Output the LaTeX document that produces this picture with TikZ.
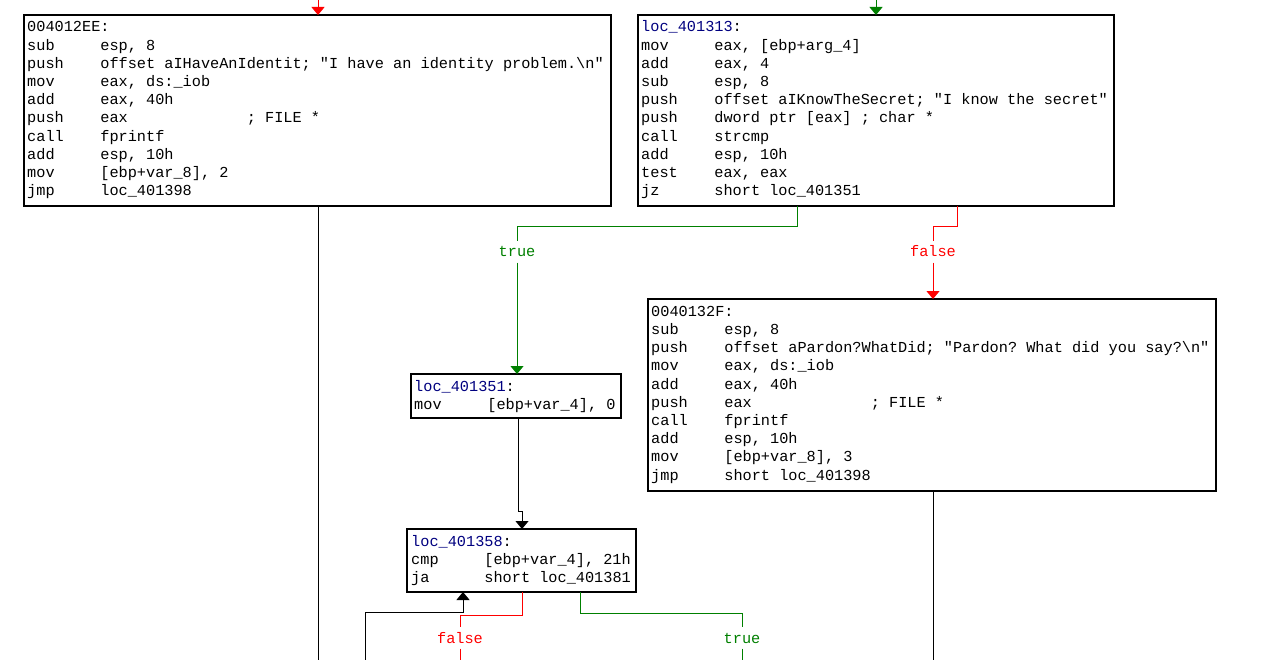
\documentclass[tikz,border=0pt]{standalone}
\usepackage{fontspec}
\usetikzlibrary{arrows.meta}
\newfontfamily\asm{Liberation Mono}
\definecolor{idagreen}{RGB}{0,128,0}
\definecolor{idared}{RGB}{255,0,0}
\definecolor{idablue}{RGB}{0,0,128}
\newlength\cw
\setlength\cw{9.15pt}
\newcommand\ins[2]{\makebox[8\cw][l]{#1}#2}
\newcommand\insc[3]{\makebox[8\cw][l]{#1}\makebox[16\cw][l]{#2}#3}
\newcommand\fl{\rule{0pt}{12pt}}
\newcommand\loclbl[1]{\textcolor{idablue}{#1}:}
\tikzset{
  asmfont/.style={font={\asm\fontsize{15.25pt}{18.2pt}\selectfont\frenchspacing}},
  blkbox/.style={draw=black, line width=2pt, fill=white, inner sep=0pt, outer sep=0pt, anchor=north west},
  asmtext/.style={asmfont, align=left, inner sep=0pt, anchor=north west, text=black},
  lbl/.style={asmfont, fill=white, inner xsep=2pt, inner ysep=0pt, minimum height=21pt, text height=10pt, text depth=0pt},
  tip/.style={-{Triangle[width=13pt,length=8pt]}},
  kline/.style={draw=black, line width=1pt},
  gline/.style={draw=idagreen, line width=1pt},
  rline/.style={draw=idared, line width=1pt}
}
\begin{document}
\begin{tikzpicture}[x=1pt,y=-1pt]
\fill[white] (0,0) rectangle (1271,660);
\useasboundingbox (0,0) rectangle (1271,660);

% blocks
\node[blkbox, minimum width=587pt, minimum height=191pt] (A) at (24,15) {};
\node[blkbox, minimum width=476pt, minimum height=191pt] (B) at (638,15) {};
\node[blkbox, minimum width=568pt, minimum height=192pt] (C) at (648,299) {};
\node[blkbox, minimum width=210pt, minimum height=44pt] (D) at (411,374) {};
\node[blkbox, minimum width=229pt, minimum height=63pt] (E) at (407,529) {};

% block texts
\node[asmtext] (Atxt) at (27,19.7) {\fl 004012EE:\\
\ins{sub}{esp, 8}\\
\ins{push}{offset aIHaveAnIdentit; "I have an identity problem.\textbackslash n"}\\
\ins{mov}{eax, ds:\_iob}\\
\ins{add}{eax, 40h}\\
\insc{push}{eax}{; FILE *}\\
\ins{call}{fprintf}\\
\ins{add}{esp, 10h}\\
\ins{mov}{[ebp+var\_8], 2}\\
\ins{jmp}{loc\_401398}};

\node[asmtext] (Btxt) at (641,19.7) {\fl\loclbl{loc\_401313}\\
\ins{mov}{eax, [ebp+arg\_4]}\\
\ins{add}{eax, 4}\\
\ins{sub}{esp, 8}\\
\ins{push}{offset aIKnowTheSecret; "I know the secret"}\\
\ins{push}{dword ptr [eax] ; char *}\\
\ins{call}{strcmp}\\
\ins{add}{esp, 10h}\\
\ins{test}{eax, eax}\\
\ins{jz}{short loc\_401351}};

\node[asmtext] (Ctxt) at (651,304) {\fl 0040132F:\\
\ins{sub}{esp, 8}\\
\ins{push}{offset aPardon?WhatDid; "Pardon? What did you say?\textbackslash n"}\\
\ins{mov}{eax, ds:\_iob}\\
\ins{add}{eax, 40h}\\
\insc{push}{eax}{; FILE *}\\
\ins{call}{fprintf}\\
\ins{add}{esp, 10h}\\
\ins{mov}{[ebp+var\_8], 3}\\
\ins{jmp}{short loc\_401398}};

\node[asmtext] (Dtxt) at (414,379) {\fl\loclbl{loc\_401351}\\
\ins{mov}{[ebp+var\_4], 0}};

\node[asmtext] (Etxt) at (411,534) {\fl\loclbl{loc\_401358}\\
\ins{cmp}{[ebp+var\_4], 21h}\\
\ins{ja}{short loc\_401381}};

% edge labels
\node[lbl, text=idagreen] (t1) at (517,252) {true};
\node[lbl, text=idared] (f1) at (933,252) {false};
\node[lbl, text=idared] (f2) at (460,638) {false};
\node[lbl, text=idagreen] (t2) at (742,638) {true};

% free ends
\coordinate (inA) at (318,0);
\coordinate (inB) at (876,0);
\coordinate (outA) at (318,660);
\coordinate (outC) at (933,660);
\coordinate (backIn) at (365,660);
\coordinate (outF) at (460,660);
\coordinate (outT) at (742,660);

% edges
\draw[rline, tip] (inA) -- (inA |- A.north);
\draw[gline, tip] (inB) -- (inB |- B.north);
\draw[kline] (A.south -| outA) -- (outA);

\draw[gline] (B.south -| 797,0) -- ++(0,21) -| (t1.north);
\draw[gline, tip] (t1.south) -- (t1.south |- D.north);
\draw[rline] (B.south -| 957,0) -- ++(0,21) -| (f1.north);
\draw[rline, tip] (f1.south) -- (f1.south |- C.north);
\draw[kline] (C.south -| outC) -- (outC);

\draw[kline, tip] (D.south -| 518,0) -- ++(0,93) -| (E.north -| 522,0);
\draw[kline, tip] (backIn) -- ++(0,-48) -| (E.south -| 463,0);

\draw[rline] (E.south -| 522,0) -- ++(0,23) -| (f2.north);
\draw[rline] (f2.south) -- (f2.south |- outF);
\draw[gline] (E.south -| 580,0) -- ++(0,21) -| (t2.north);
\draw[gline] (t2.south) -- (t2.south |- outT);
\end{tikzpicture}
\end{document}
